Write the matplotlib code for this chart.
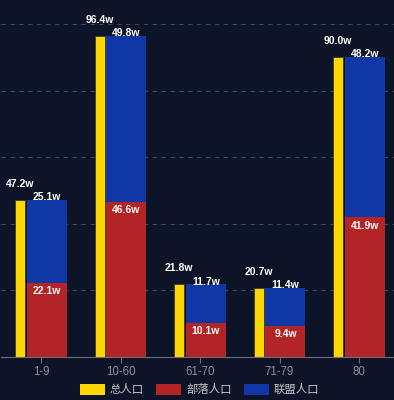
import matplotlib.pyplot as plt
import numpy as np
from matplotlib.patches import Patch

plt.rcParams['font.family'] = ['Liberation Sans', 'Noto Sans CJK SC', 'DejaVu Sans']

# 数据
categories = ['1-9', '10-60', '61-70', '71-79', '80']
total = [47.2, 96.4, 21.8, 20.7, 90.0]
horde = [22.1, 46.6, 10.1, 9.4, 41.9]
alliance = [25.1, 49.8, 11.7, 11.4, 48.2]
series_names = ['总人口', '部落人口', '联盟人口']

bg = '#0e1427'
c_yellow = '#ffd700'
c_red = '#b22426'
c_blue = '#0f38a6'

fig = plt.figure(figsize=(3.94, 4.0), dpi=100, facecolor=bg)
ax = fig.add_axes([1.25 / 394, 43 / 400, 397.5 / 394, 333 / 400])
ax.set_facecolor(bg)

x = np.arange(len(categories))
b1 = ax.bar(x - 0.264, total, width=0.126, color=c_yellow, edgecolor='#3a3a30', linewidth=0.6)
b2 = ax.bar(x + 0.075, horde, width=0.503, color=c_red)
b3 = ax.bar(x + 0.075, alliance, width=0.503, bottom=horde, color=c_blue)

# 数值标签
for i in range(len(categories)):
    ax.annotate(f'{total[i]:.1f}w', (x[i] - 0.264, total[i]), xytext=(0, 11.5),
                textcoords='offset points', ha='center', va='center',
                color='white', fontsize=7.5, fontweight='bold')
    ax.annotate(f'{horde[i]:.1f}w', (x[i] + 0.075, horde[i]), xytext=(0, -5.8),
                textcoords='offset points', ha='center', va='center',
                color='white', fontsize=7.5, fontweight='bold')
    ax.annotate(f'{alliance[i]:.1f}w', (x[i] + 0.075, horde[i] + alliance[i]), xytext=(0, 1.8),
                textcoords='offset points', ha='center', va='center',
                color='white', fontsize=7.5, fontweight='bold')

ax.set_xlim(-0.5, len(categories) - 0.5)
ax.set_ylim(0, 100)
ax.set_yticks([20, 40, 60, 80, 100])
ax.yaxis.grid(True, linestyle=(0, (4, 4)), color='#3a4563', linewidth=0.8)
ax.set_axisbelow(True)
ax.tick_params(axis='y', left=False, labelleft=False)
ax.set_xticks(x)
ax.set_xticklabels(categories)
ax.tick_params(axis='x', colors='#6e7079', labelcolor='#8a8e99', length=4, pad=2.5, labelsize=8.3)
for s in ['top', 'right', 'left']:
    ax.spines[s].set_visible(False)
ax.spines['bottom'].set_color('#6e7079')

handles = [Patch(facecolor=c, edgecolor='none') for c in [c_yellow, c_red, c_blue]]
fig.legend(handles, series_names, loc='center', bbox_to_anchor=(199.5 / 394, 10.5 / 400), ncol=3,
           frameon=False, labelcolor='#c8c8c8', handlelength=2.2,
           handleheight=1.1, handletextpad=0.45, columnspacing=1.05,
           prop={'family': ['Noto Sans CJK SC', 'DejaVu Sans'], 'size': 8.2})

fig.savefig('out.png', dpi=100, facecolor=bg)
